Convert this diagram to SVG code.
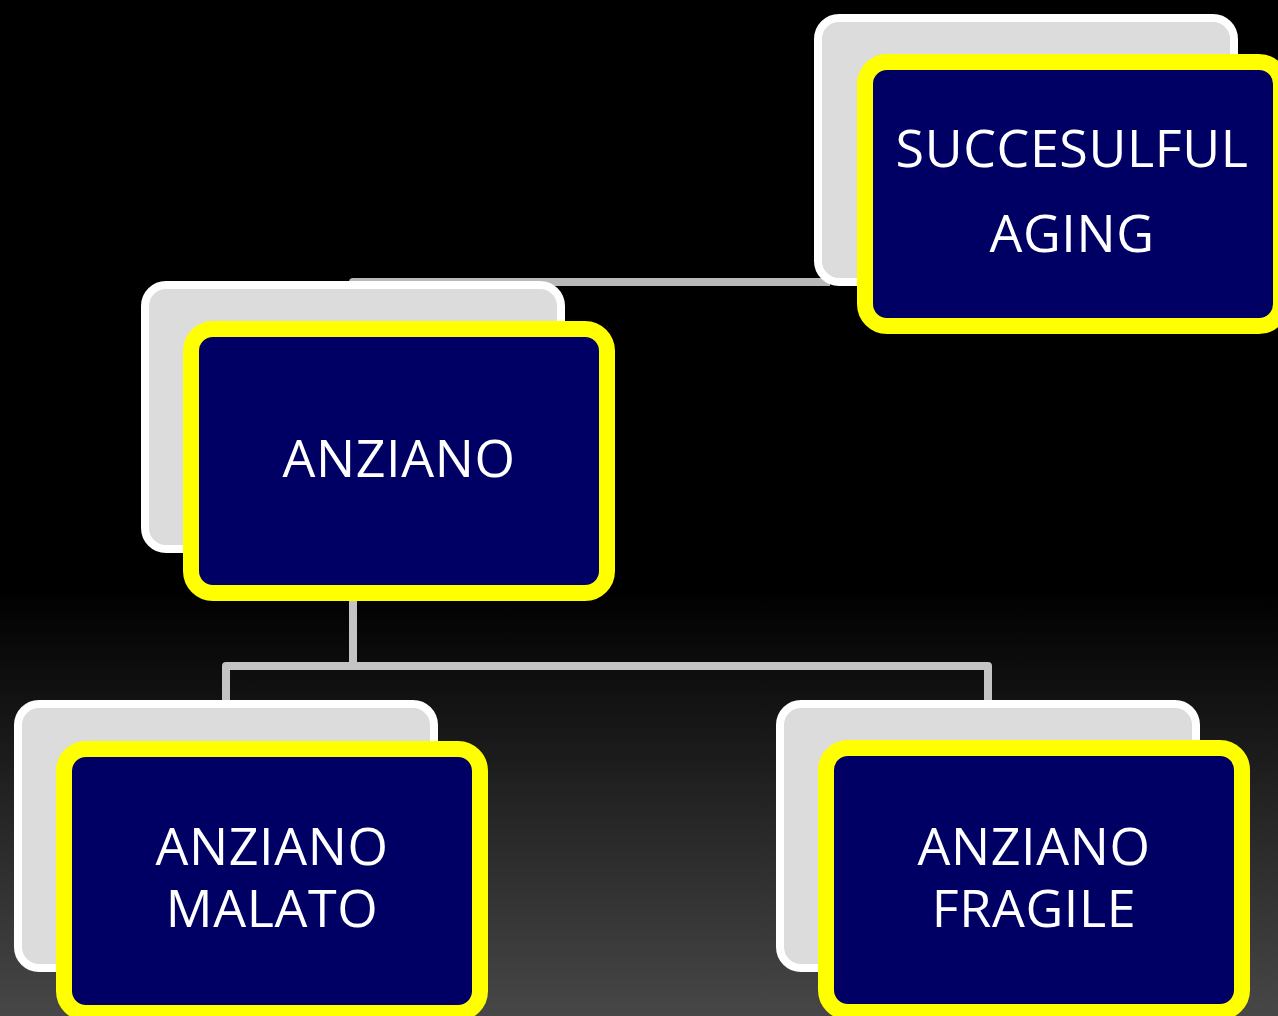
<svg xmlns="http://www.w3.org/2000/svg" width="1278" height="1016" viewBox="0 0 1278 1016">
  <defs>
    <linearGradient id="bg" x1="0" y1="0" x2="0" y2="1">
      <stop offset="0" stop-color="#000000"/>
      <stop offset="0.58" stop-color="#000000"/>
      <stop offset="1" stop-color="#474747"/>
    </linearGradient>
  </defs>
  <style>
    .back { fill: #dcdcdc; stroke: #ffffff; stroke-width: 8; }
    .front { fill: #000064; stroke: #ffff00; stroke-width: 16; }
    .conn { fill: none; stroke: #c4c4c4; stroke-width: 8; stroke-linejoin: round; }
    .conn-top { stroke: #b8b8b8; }
    .lbl { font-family: "Open Sans", "Noto Sans", "DejaVu Sans", sans-serif; font-size: 52px; letter-spacing: 0.6px; fill: #ffffff; text-anchor: middle; }
  </style>
  <rect x="0" y="0" width="1278" height="1016" fill="url(#bg)"/>

  <g id="connectors">
    <path class="conn conn-top" d="M353,300 V282 H830"/>
    <path class="conn" d="M353,598 V666"/>
    <path class="conn" d="M226,704 V666 H988 V704"/>
  </g>

  <g id="node-successful">
    <rect class="back" x="818" y="18" width="416" height="264" rx="21"/>
    <rect class="front" x="865" y="62" width="416" height="264" rx="22"/>
    <text class="lbl" x="1072" y="167">SUCCESULFUL</text>
    <text class="lbl" x="1072" y="252">AGING</text>
  </g>

  <g id="node-anziano">
    <rect class="back" x="145" y="285" width="416" height="264" rx="21"/>
    <rect class="front" x="191" y="329" width="416" height="264" rx="22"/>
    <text class="lbl" x="399" y="477">ANZIANO</text>
  </g>

  <g id="node-malato">
    <rect class="back" x="18" y="704" width="416" height="264" rx="21"/>
    <rect class="front" x="64" y="749" width="416" height="264" rx="22"/>
    <text class="lbl" x="272" y="865"><tspan x="272" y="865">ANZIANO</tspan><tspan x="272" y="927">MALATO</tspan></text>
  </g>

  <g id="node-fragile">
    <rect class="back" x="780" y="704" width="416" height="264" rx="21"/>
    <rect class="front" x="826" y="748" width="416" height="264" rx="22"/>
    <text class="lbl" x="1034" y="865"><tspan x="1034" y="865">ANZIANO</tspan><tspan x="1034" y="927">FRAGILE</tspan></text>
  </g>
</svg>
